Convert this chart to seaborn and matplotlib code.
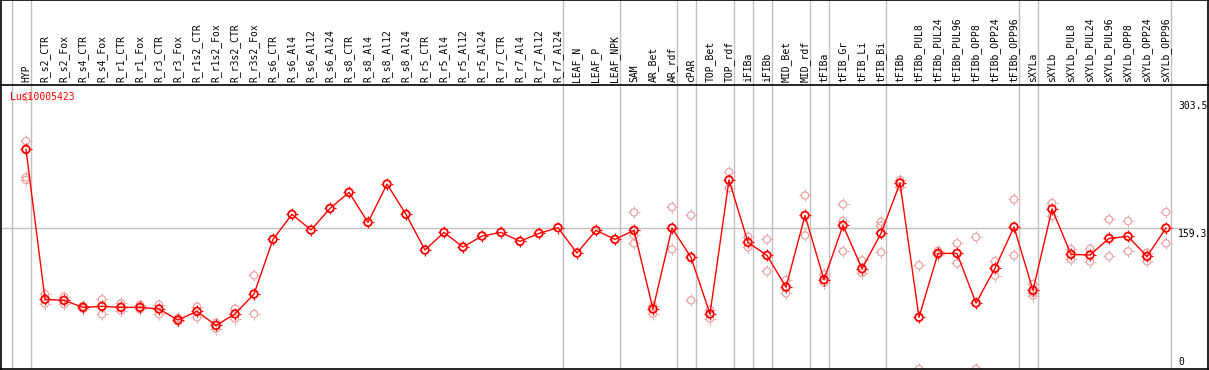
import numpy as np
import pandas as pd
import matplotlib
matplotlib.use("Agg")
import matplotlib.pyplot as plt
from matplotlib.path import Path
import seaborn as sns

samples = ["HYP", "R_s2_CTR", "R_s2_Fox", "R_s4_CTR", "R_s4_Fox", "R_r1_CTR", "R_r1_Fox",
           "R_r3_CTR", "R_r3_Fox", "R_r1s2_CTR", "R_r1s2_Fox", "R_r3s2_CTR", "R_r3s2_Fox",
           "R_s6_CTR", "R_s6_Al4", "R_s6_Al12", "R_s6_Al24", "R_s8_CTR", "R_s8_Al4", "R_s8_Al12",
           "R_s8_Al24", "R_r5_CTR", "R_r5_Al4", "R_r5_Al12", "R_r5_Al24", "R_r7_CTR", "R_r7_Al4",
           "R_r7_Al12", "R_r7_Al24", "LEAF_N", "LEAF_P", "LEAF_NPK", "SAM", "AR_Bet", "AR_rdf",
           "cPAR", "TOP_Bet", "TOP_rdf", "iFIBa", "iFIBb", "MID_Bet", "MID_rdf", "tFIBa",
           "tFIB_Gr", "tFIB_Li", "tFIB_Bi", "tFIBb", "tFIBb_PUL8", "tFIBb_PUL24", "tFIBb_PUL96",
           "tFIBb_OPP8", "tFIBb_OPP24", "tFIBb_OPP96", "sXYLa", "sXYLb", "sXYLb_PUL8",
           "sXYLb_PUL24", "sXYLb_PUL96", "sXYLb_OPP8", "sXYLb_OPP24", "sXYLb_OPP96"]

means = [248.2, 78.7, 77.6, 69.7, 70.8, 69.7, 69.7, 67.8, 55.4, 65.2, 49.3, 62.2, 84.7,
         146.5, 174.8, 157.1, 181.5, 199.6, 165.7, 209.0, 174.8, 134.5, 154.4, 137.8, 150.3,
         154.4, 144.3, 153.3, 159.7, 131.1, 156.7, 146.5, 156.7, 67.8, 159.3, 126.2, 62.2,
         213.6, 143.1, 128.4, 92.6, 173.6, 100.9, 162.3, 113.4, 153.3, 210.2, 58.4, 130.7,
         130.7, 74.6, 113.8, 160.5, 88.9, 180.8, 129.6, 128.8, 147.6, 149.9, 127.3, 159.3]

replicates = [[307.7, 257.6, 216.6, 213.6], [84.7, 73.8], [81.7, 73.1], [71.2, 68.2],
              [78.7, 61.8], [74.2, 65.9], [72.7, 67.4], [72.7, 61.8], [57.6, 53.9],
              [70.4, 58.4], [52.3, 45.6], [68.2, 56.9], [105.8, 62.2],
              [], [], [], [], [], [], [], [], [], [], [], [], [], [], [], [], [], [], [],
              [177.0, 151.0, 142.0], [71.2, 62.5], [183.0, 135.2], [173.6, 77.6],
              [67.0, 56.9], [222.6, 204.5], [149.5, 137.5], [146.5, 110.4], [100.6, 85.5],
              [196.2, 151.0], [107.0, 97.6], [186.1, 167.6, 133.0], [122.8, 108.5],
              [166.5, 162.0, 131.9], [213.6, 206.0], [117.1, 0.0], [133.7, 129.2],
              [142.0, 119.4], [149.1, 0.0], [121.7, 105.5], [191.7, 128.4],
              [96.0, 86.2, 82.9], [187.6, 172.9], [135.2, 123.9], [136.0, 121.3],
              [169.1, 127.3], [167.2, 133.0], [131.4, 121.7], [177.3, 142.0]]

# index of last sample in each group (separators drawn just right of it)
group_ends = [-1, 0, 28, 31, 34, 35, 37, 38, 39, 41, 42, 45, 52, 53, 60]
y_ticks = ["303.5", "159.3", "0"]

pos = np.arange(len(samples))
df_mean = pd.DataFrame({"pos": pos, "value": means})
rep_rows = [(i, v) for i, reps in enumerate(replicates) for v in reps]
df_rep = pd.DataFrame(rep_rows, columns=["pos", "value"])

# little tick marks around each circle
r0, r1 = 0.62, 1.0
tick_path = Path([(r0, 0), (r1, 0), (-r0, 0), (-r1, 0), (0, r0), (0, r1), (0, -r0), (0, -r1)],
                 [Path.MOVETO, Path.LINETO] * 4)

W, H = 1209, 370
fig = plt.figure(figsize=(W / 100, H / 100), dpi=100)
xlim = (-25 / 19, (1208 - 26) / 19)

ax = fig.add_axes([1 / W, 1 - 369 / H, 1207 / W, 284 / H])
head = fig.add_axes([1 / W, 1 - 85 / H, 1207 / W, 85 / H])

grey = "#c0c0c0"
for a in (ax, head):
    a.set_xlim(*xlim)
    for g in group_ends:
        a.axvline(g + 0.24, color=grey, lw=1, zorder=0)
    a.set_xticks([])
    a.set_yticks([])
    for s in a.spines.values():
        s.set_color("black")
        s.set_linewidth(1.2)
ax.spines["top"].set_visible(False)

ax.set_ylim(0, 321)
ax.hlines(159.3, xlim[0], 61.35, color=grey, lw=1, zorder=0)

rep_col = "#eba3a3"
sns.scatterplot(data=df_rep, x="pos", y="value", ax=ax, marker=tick_path, s=70,
                color=rep_col, edgecolor=rep_col, linewidth=0.8, zorder=2, legend=False)
sns.scatterplot(data=df_rep, x="pos", y="value", ax=ax, marker="o", s=27,
                facecolor="none", edgecolor=rep_col, linewidth=0.9, zorder=2, legend=False)

sns.lineplot(data=df_mean, x="pos", y="value", ax=ax, color="red", lw=1, zorder=3,
             legend=False)
sns.scatterplot(data=df_mean, x="pos", y="value", ax=ax, marker=tick_path, s=75,
                color="red", edgecolor="red", linewidth=0.9, zorder=4, legend=False)
sns.scatterplot(data=df_mean, x="pos", y="value", ax=ax, marker="o", s=30,
                facecolor="none", edgecolor="red", linewidth=1.3, zorder=5, legend=False)
ax.set_xlabel("")
ax.set_ylabel("")

mono = "DejaVu Sans Mono"
ax.text(9 / 1207, 1 - 12 / 284, "Lus10005423", transform=ax.transAxes, color="red",
        fontsize=7, family=mono, va="center", ha="left")

for lab in y_ticks:
    v = float(lab)
    if v == 0:
        ax.text(1177 / 1207, 2, lab, transform=ax.get_yaxis_transform(), fontsize=7,
                family=mono, va="bottom", ha="left")
    else:
        ax.text(1177 / 1207, v - 1, lab, transform=ax.get_yaxis_transform(), fontsize=7,
                family=mono, va="top", ha="left")

head.set_ylim(0, 1)
for i, lab in enumerate(samples):
    head.text(i, 0.03, lab, rotation=90, fontsize=7, family=mono,
              ha="center", va="bottom")

fig.savefig("out.png", dpi=100)
